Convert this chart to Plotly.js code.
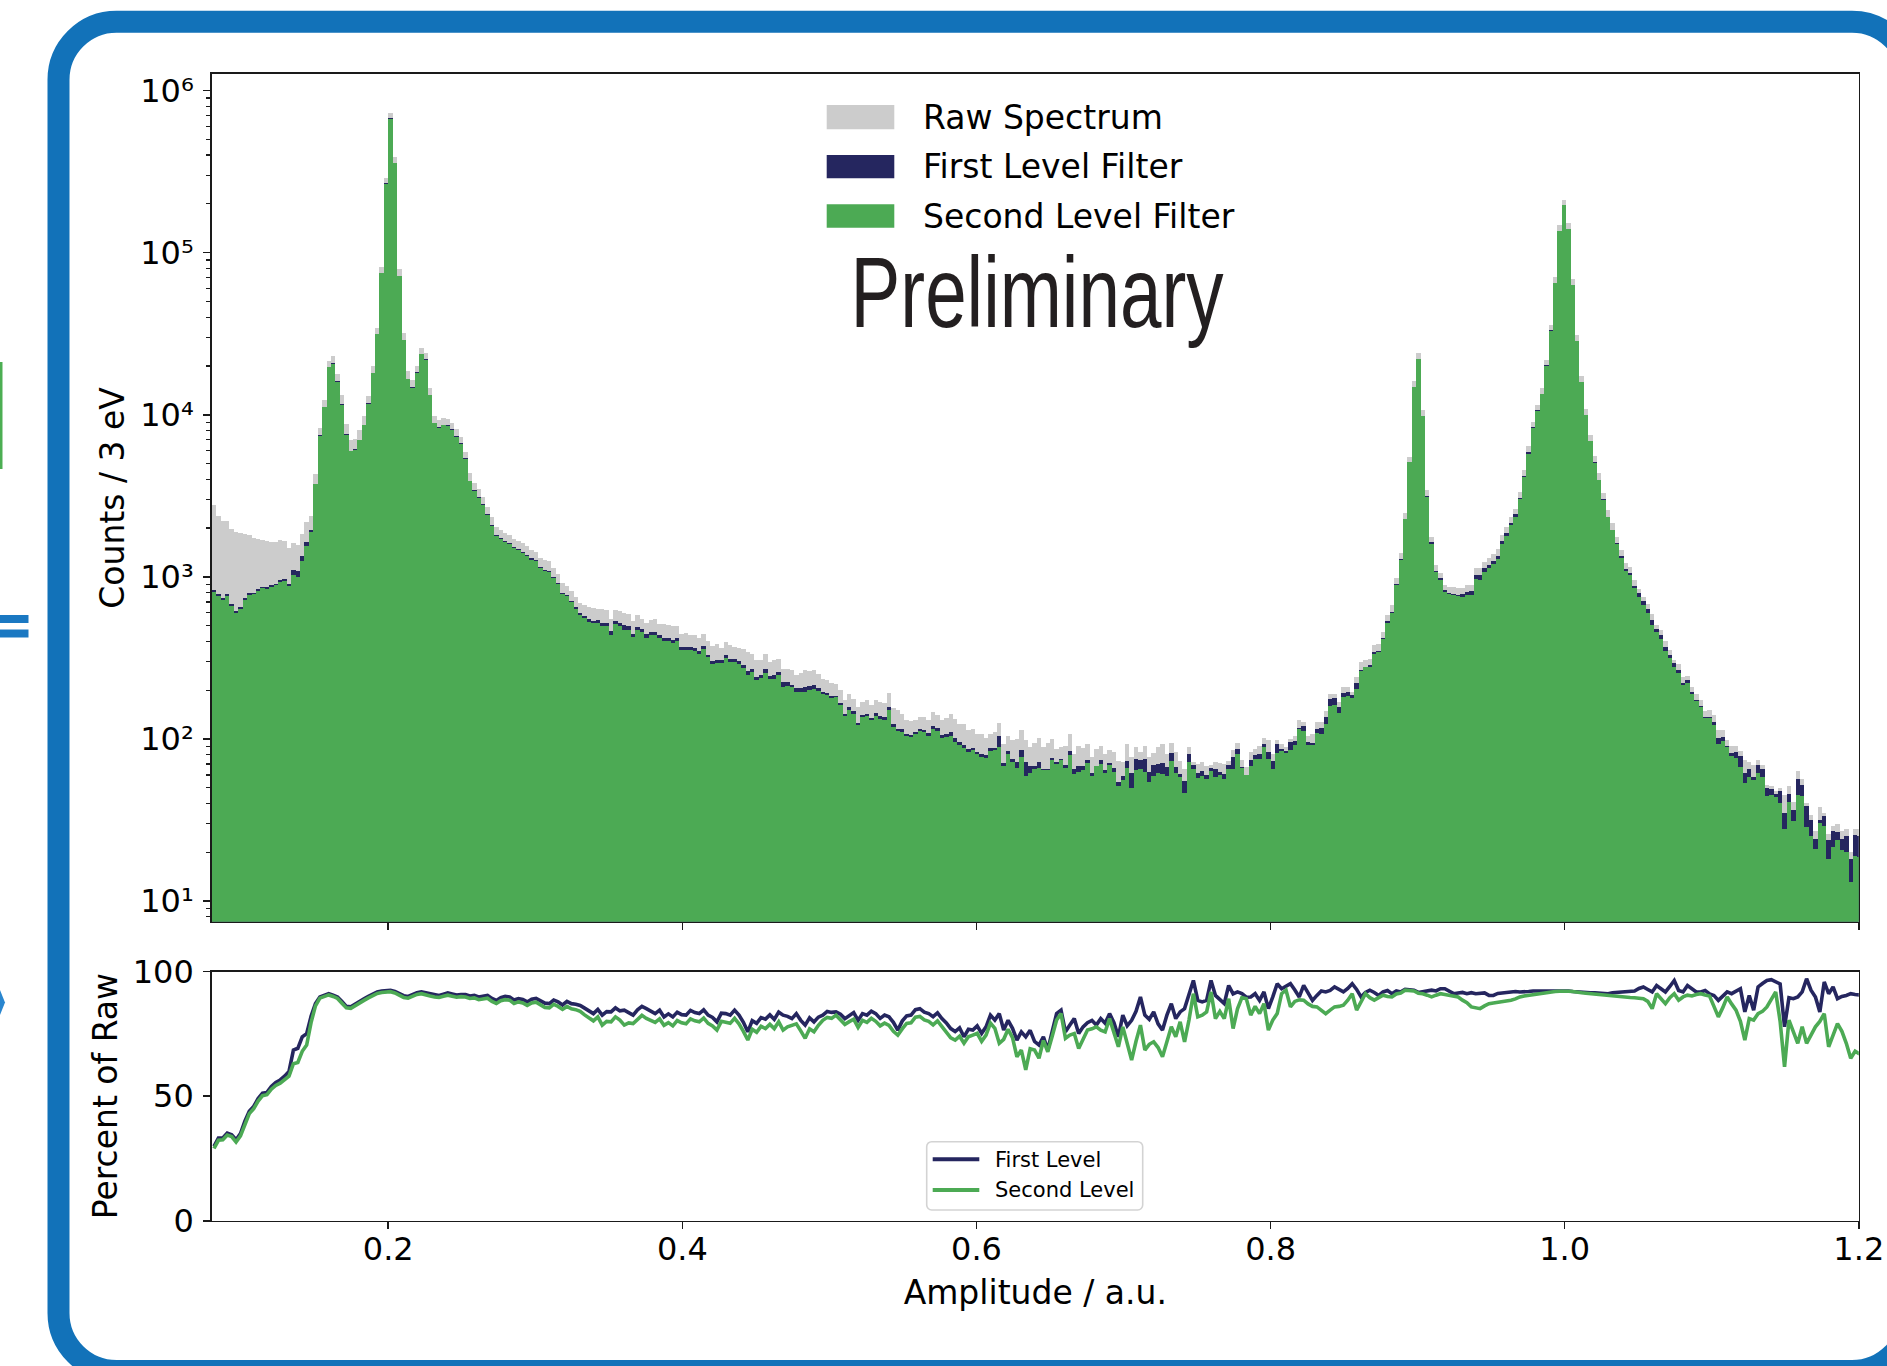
<!DOCTYPE html>
<html>
<head>
<meta charset="utf-8">
<script src="https://cdn.plot.ly/plotly-3.0.1.min.js"></script>
<style>
html, body { margin: 0; padding: 0; background: #ffffff; }
#chart { width: 1887px; height: 1366px; }
</style>
</head>
<body>
<div id="chart"></div>
<script>
// ---------------- data ----------------
const binStart = 0.08;
const binWidth = 0.003;

// Raw spectrum counts per 3 eV bin (bin k covers binStart + k*binWidth ... + binWidth)
const rawCounts = [
  2775, 2370, 2220, 2220, 1963, 1897, 1870, 1850, 1800, 1741,
  1710, 1690, 1670, 1650, 1630, 1690, 1670, 1504, 1620, 1570,
  1830, 2190, 2370, 4310, 8330, 12390, 21600, 22900, 17950, 13180,
  8790, 7000, 7060, 8000, 9770, 13090, 19950, 34360, 81700, 290000,
  728000, 389000, 79000, 32100, 18540, 16300, 19950, 25900, 24000, 14630,
  9860, 9310, 9550, 9400, 8920, 8130, 7340, 5930, 4350, 3810,
  3470, 3125, 2685, 2350, 2037, 1945, 1854, 1800, 1718, 1670,
  1608, 1550, 1463, 1420, 1300, 1270, 1250, 1127, 1048, 920,
  880, 818, 753, 692, 675, 652, 645, 637, 630, 622,
  552, 622, 617, 598, 593, 535, 579, 552, 520, 540,
  548, 515, 515, 508, 500, 499, 446, 450, 435, 435,
  421, 442, 402, 373, 387, 366, 396, 378, 369, 365,
  361, 344, 336, 305, 305, 333, 298, 305, 311, 272,
  272, 265, 247, 255, 265, 262, 268, 253, 236, 230,
  221, 219, 201, 175, 190, 177, 157, 169, 173, 161,
  173, 170, 166, 192, 156, 151, 143, 131, 129, 131,
  136, 136, 131, 146, 140, 130, 135, 143, 133, 124,
  124, 113, 115, 107, 107, 102, 107, 110, 125, 93,
  105, 98, 100, 113, 98, 89, 95, 102, 89, 95,
  100, 87, 89, 91, 107, 81, 91, 88, 93, 77,
  87, 91, 81, 85, 83, 73, 72, 93, 77, 89,
  83, 91, 77, 82, 89, 93, 81, 94, 83, 73,
  65, 89, 72, 70, 72, 68, 69, 72, 71, 70,
  73, 85, 95, 74, 67, 83, 87, 91, 102, 98,
  81, 98, 93, 89, 100, 105, 130, 127, 105, 107,
  127, 127, 148, 190, 190, 169, 209, 209, 195, 240,
  298, 305, 310, 378, 385, 457, 579, 668, 977, 1396,
  2466, 5520, 16070, 24100, 10740, 3430, 1766, 1181, 1050, 889,
  870, 860, 851, 851, 889, 895, 1127, 1127, 1240, 1300,
  1380, 1480, 1810, 2040, 2350, 2640, 3360, 4570, 6370, 9080,
  11530, 14630, 21870, 36000, 70600, 147500, 212000, 152700, 68700, 30900,
  17400, 10840, 7540, 5570, 4360, 3310, 2580, 2140, 1766, 1462,
  1211, 1150, 954, 847, 752, 684, 594, 504, 468, 402,
  353, 305, 290, 241, 246, 209, 190, 173, 148, 150,
  141, 114, 114, 99, 90, 90, 84, 74, 72, 69,
  74, 69, 52, 51, 48, 50, 45, 51, 41, 63,
  57, 40, 34, 27, 38, 35, 26, 29, 30, 27,
  28, 20, 28, 28
];

// Percent of raw kept by the first level filter, per bin
const firstPct = [
  29.9, 33.2, 33.2, 35.2, 34.5, 32.5, 35.0, 40.0, 43.9, 45.9,
  49.0, 51.2, 51.5, 53.9, 55.5, 56.5, 58.0, 59.9, 68.5, 69.2,
  73.8, 75.1, 82.0, 87.1, 89.8, 90.5, 91.1, 90.5, 89.8, 88.0,
  86.0, 85.8, 87.0, 87.8, 89.0, 90.0, 91.0, 91.8, 92.2, 92.5,
  92.5, 92.0, 91.0, 90.3, 90.0, 90.8, 91.5, 91.8, 91.5, 91.0,
  90.6, 90.4, 90.9, 91.4, 91.0, 90.6, 90.8, 90.8, 90.2, 90.4,
  89.8, 90.2, 90.4, 89.2, 88.4, 89.5, 90.0, 89.8, 88.6, 89.1,
  88.8, 87.8, 88.9, 89.2, 88.4, 87.3, 87.1, 88.5, 87.8, 86.6,
  88.0, 87.1, 86.9, 86.4, 85.3, 84.0, 83.1, 84.8, 82.5, 83.9,
  83.8, 85.4, 84.2, 84.5, 83.6, 82.5, 84.6, 86.0, 85.1, 84.2,
  83.1, 84.5, 81.8, 83.0, 81.8, 83.7, 82.7, 82.5, 84.4, 83.5,
  83.1, 84.6, 82.5, 81.6, 79.8, 83.3, 83.1, 82.5, 84.5, 82.5,
  79.6, 75.8, 80.3, 79.2, 81.5, 80.9, 82.6, 80.8, 83.7, 82.5,
  82.0, 81.1, 83.1, 80.4, 78.5, 81.4, 79.8, 81.7, 82.5, 84.0,
  83.6, 83.8, 82.9, 81.1, 82.4, 83.5, 80.4, 83.1, 82.5, 84.1,
  83.1, 81.2, 82.5, 81.8, 79.6, 76.5, 80.1, 82.2, 82.5, 84.7,
  85.1, 83.7, 83.1, 81.9, 83.4, 81.1, 79.4, 77.1, 75.9, 77.4,
  73.8, 76.8, 76.5, 78.2, 75.2, 77.8, 82.5, 80.5, 83.1, 76.5,
  80.4, 77.2, 72.5, 75.8, 73.8, 76.4, 72.0, 70.5, 73.8, 68.5,
  76.0, 83.1, 84.5, 75.8, 78.5, 81.1, 75.1, 77.8, 79.5, 80.4,
  78.5, 81.1, 79.2, 83.1, 79.5, 73.8, 82.5, 78.2, 80.4, 84.0,
  89.8, 82.5, 80.8, 83.8, 79.0, 76.5, 82.5, 87.1, 81.1, 83.8,
  85.1, 90.2, 96.4, 88.4, 87.8, 88.4, 96.4, 90.4, 88.5, 87.1,
  94.4, 91.0, 91.8, 91.1, 89.7, 89.8, 91.1, 88.4, 91.8, 85.1,
  89.8, 95.1, 93.1, 94.2, 95.1, 92.6, 89.8, 94.4, 91.2, 88.4,
  90.4, 92.2, 91.8, 92.4, 93.8, 92.6, 91.8, 93.2, 95.1, 92.8,
  89.8, 91.6, 92.5, 91.6, 90.4, 91.8, 92.4, 91.1, 92.2, 91.8,
  92.8, 92.7, 92.5, 91.6, 91.8, 92.1, 92.5, 92.2, 93.1, 93.1,
  91.9, 91.1, 91.4, 91.6, 91.1, 91.5, 91.1, 91.1, 91.4, 90.4,
  90.4, 91.2, 91.4, 91.8, 91.9, 92.0, 91.8, 91.8, 92.0, 92.2,
  92.2, 92.3, 92.2, 92.3, 92.2, 92.4, 92.5, 92.2, 92.0, 91.8,
  91.8, 91.6, 91.5, 91.5, 91.4, 91.2, 91.1, 91.5, 91.6, 91.8,
  92.0, 92.1, 92.2, 93.2, 93.8, 92.8, 91.8, 94.4, 93.0, 91.8,
  94.0, 96.4, 92.4, 91.8, 94.4, 93.0, 91.8, 91.8, 92.4, 91.0,
  90.4, 88.4, 90.0, 91.8, 91.1, 92.0, 93.1, 83.8, 90.4, 84.5,
  93.8, 95.2, 96.4, 96.7, 95.8, 95.0, 77.8, 89.5, 89.1, 89.8,
  91.8, 97.1, 92.5, 89.8, 83.8, 95.8, 91.1, 93.8, 89.1, 90.0,
  90.4, 91.1, 90.8, 90.6
];

// Percent of raw kept by the second level filter, per bin
const secondPct = [
  29.0, 32.3, 32.5, 34.4, 33.8, 31.6, 34.1, 39.0, 43.0, 45.0,
  48.0, 50.2, 50.6, 52.8, 54.3, 55.2, 56.5, 58.0, 63.0, 63.5,
  68.0, 70.5, 79.5, 86.2, 89.3, 90.0, 90.6, 90.0, 89.2, 87.3,
  85.4, 85.2, 86.4, 87.2, 88.4, 89.4, 90.4, 91.2, 91.6, 91.9,
  91.9, 91.4, 90.4, 89.6, 89.3, 90.1, 90.8, 91.1, 90.8, 90.2,
  89.8, 89.6, 90.1, 90.5, 90.1, 89.7, 89.9, 89.8, 89.2, 89.4,
  88.7, 89.1, 89.3, 88.0, 87.2, 88.3, 88.7, 88.5, 87.2, 87.8,
  87.4, 86.4, 87.4, 87.7, 86.8, 85.6, 85.4, 86.8, 86.0, 84.8,
  86.0, 85.0, 84.7, 84.0, 82.6, 81.2, 80.2, 81.8, 78.5, 80.0,
  79.8, 81.8, 80.5, 78.5, 79.4, 79.1, 81.0, 82.4, 81.2, 80.5,
  79.6, 81.0, 78.4, 79.5, 78.2, 80.3, 79.4, 79.0, 81.0, 80.2,
  79.8, 81.3, 79.2, 78.2, 76.5, 80.0, 79.7, 79.2, 81.2, 79.0,
  76.0, 72.5, 76.8, 75.6, 78.0, 77.1, 78.8, 77.1, 79.8, 76.5,
  77.8, 78.5, 79.0, 76.2, 73.2, 77.0, 75.8, 78.4, 80.4, 81.6,
  81.2, 82.5, 80.6, 78.8, 79.9, 80.9, 77.6, 80.4, 79.6, 81.2,
  80.0, 78.2, 79.3, 78.4, 76.0, 74.5, 77.0, 79.2, 79.4, 81.7,
  82.0, 80.6, 80.0, 78.6, 80.2, 77.8, 75.8, 73.4, 72.5, 74.0,
  71.2, 73.8, 74.5, 75.2, 72.0, 74.5, 79.3, 77.2, 71.2, 72.8,
  76.8, 73.5, 65.8, 68.5, 60.5, 69.0, 68.5, 65.2, 72.3, 67.8,
  74.0, 80.5, 83.1, 73.2, 74.5, 75.1, 69.1, 72.8, 76.5, 77.0,
  77.8, 76.5, 75.8, 81.1, 75.0, 69.8, 77.8, 71.0, 64.5, 72.0,
  78.5, 68.5, 70.8, 71.8, 69.5, 65.8, 72.5, 77.8, 73.8, 79.8,
  71.8, 80.5, 91.1, 81.8, 82.5, 83.8, 91.8, 81.1, 84.0, 81.1,
  89.1, 77.1, 85.0, 89.5, 89.1, 82.5, 86.0, 83.1, 87.1, 76.5,
  80.5, 83.1, 91.1, 92.5, 85.8, 88.0, 88.6, 88.5, 87.0, 86.0,
  85.8, 84.5, 83.1, 84.5, 85.8, 86.0, 86.5, 88.5, 91.1, 84.5,
  88.0, 91.1, 89.5, 88.5, 89.5, 90.5, 90.0, 89.8, 91.0, 91.4,
  92.5, 92.3, 92.2, 91.3, 91.1, 90.5, 89.8, 90.5, 91.1, 90.8,
  90.5, 90.0, 89.8, 88.5, 87.5, 85.8, 85.5, 85.1, 86.2, 87.1,
  87.4, 87.6, 87.8, 88.1, 88.5, 89.0, 89.8, 90.2, 90.5, 90.8,
  91.1, 91.4, 91.6, 91.8, 92.0, 92.1, 92.2, 92.1, 92.0, 91.6,
  91.5, 91.3, 91.1, 90.9, 90.8, 90.6, 90.5, 90.4, 90.2, 90.0,
  89.8, 89.6, 89.5, 89.3, 89.1, 88.0, 85.1, 91.1, 89.0, 87.1,
  89.5, 91.1, 88.5, 89.8, 90.5, 90.2, 90.8, 91.1, 90.6, 90.2,
  86.0, 81.8, 85.5, 89.8, 87.0, 84.5, 80.0, 72.5, 81.1, 80.5,
  83.1, 84.0, 85.8, 88.5, 91.8, 80.0, 61.8, 80.5, 76.0, 71.2,
  77.8, 71.2, 74.5, 77.8, 80.0, 83.1, 69.8, 74.0, 79.1, 76.0,
  71.2, 65.2, 68.0, 66.9
];

const seriesNames = ['Raw Spectrum', 'First Level Filter', 'Second Level Filter'];
const ratioNames = ['First Level', 'Second Level'];
const countTickVals = [10, 100, 1000, 10000, 100000, 1000000];
const countTickText = ['10\u00B9', '10\u00B2', '10\u00B3', '10\u2074', '10\u2075', '10\u2076'];
const ampTickVals = [0.2, 0.4, 0.6, 0.8, 1.0, 1.2];
const ampTickText = ['0.2', '0.4', '0.6', '0.8', '1.0', '1.2'];
const pctTickVals = [0, 50, 100];
const watermark = 'Preliminary';

// ---------------- derived ----------------
const centers = rawCounts.map((_, i) => binStart + binWidth * (i + 0.5));
const firstCounts = rawCounts.map((c, i) => c * firstPct[i] / 100);
const secondCounts = rawCounts.map((c, i) => c * secondPct[i] / 100);

const minorVals = [];
for (let d = 0; d <= 6; d++) for (let m = 2; m <= 9; m++) minorVals.push(m * Math.pow(10, d));

const C_RAW = '#cccccc';
const C_FIRST = '#25265f';
const C_SECOND = '#4caa54';
const C_BLUE = '#1272b9';
const FONT = 'DejaVu Sans, Verdana, sans-serif';

const W = 1887, H = 1366;
const px = x => x / W;
const py = y => 1 - y / H;
const P = (x, y) => px(x).toFixed(6) + ',' + py(y).toFixed(6);
function roundRectPath(x0, y0, x1, y1, r) {
  const k = 0.5523 * r;
  return 'M' + P(x0 + r, y0) + ' L' + P(x1 - r, y0) +
    ' C' + P(x1 - r + k, y0) + ' ' + P(x1, y0 + r - k) + ' ' + P(x1, y0 + r) +
    ' L' + P(x1, y1 - r) +
    ' C' + P(x1, y1 - r + k) + ' ' + P(x1 - r + k, y1) + ' ' + P(x1 - r, y1) +
    ' L' + P(x0 + r, y1) +
    ' C' + P(x0 + r - k, y1) + ' ' + P(x0, y1 - r + k) + ' ' + P(x0, y1 - r) +
    ' L' + P(x0, y0 + r) +
    ' C' + P(x0, y0 + r - k) + ' ' + P(x0 + r - k, y0) + ' ' + P(x0 + r, y0) + ' Z';
}

const barCommon = { type: 'bar', x: centers, width: binWidth, xaxis: 'x', yaxis: 'y',
  hoverinfo: 'skip', showlegend: false };

const traces = [
  Object.assign({}, barCommon, { name: seriesNames[0], y: rawCounts, marker: { color: C_RAW, line: { width: 0 } } }),
  Object.assign({}, barCommon, { name: seriesNames[1], y: firstCounts, marker: { color: C_FIRST, line: { width: 0 } } }),
  Object.assign({}, barCommon, { name: seriesNames[2], y: secondCounts, marker: { color: C_SECOND, line: { width: 0 } } }),
  { type: 'scatter', mode: 'lines', name: ratioNames[0], x: centers, y: firstPct, xaxis: 'x2', yaxis: 'y2',
    line: { color: C_FIRST, width: 3.6 }, hoverinfo: 'skip', showlegend: false },
  { type: 'scatter', mode: 'lines', name: ratioNames[1], x: centers, y: secondPct, xaxis: 'x2', yaxis: 'y2',
    line: { color: C_SECOND, width: 3.6 }, hoverinfo: 'skip', showlegend: false }
];

const axisCommon = {
  showline: true, linecolor: '#1a1a1a', linewidth: 1.6, mirror: true,
  ticks: 'outside', ticklen: 7, tickwidth: 1.6, tickcolor: '#1a1a1a',
  showgrid: false, zeroline: false,
  tickfont: { family: FONT, size: 32, color: '#000' }
};
const xDomain = [211.8 / W, 1858.8 / W];

const layout = {
  width: W, height: H,
  margin: { l: 0, r: 0, t: 0, b: 0, pad: 0 },
  paper_bgcolor: '#ffffff', plot_bgcolor: '#ffffff',
  barmode: 'overlay', bargap: 0,
  showlegend: false,
  xaxis: Object.assign({}, axisCommon, {
    domain: xDomain, anchor: 'y', range: [0.08, 1.2],
    tickvals: ampTickVals, showticklabels: false
  }),
  yaxis: Object.assign({}, axisCommon, {
    domain: [1 - 921.8 / H, 1 - 74 / H], anchor: 'x',
    type: 'log', range: [0.872, 6.102],
    tickvals: countTickVals, ticktext: countTickText, ticklabelstandoff: 3,
    minor: { tickvals: minorVals, ticks: 'outside', ticklen: 4, tickwidth: 1.2, tickcolor: '#1a1a1a', showgrid: false },
    title: { text: 'Counts / 3 eV', font: { family: FONT, size: 33, color: '#000' }, standoff: 5 }
  }),
  xaxis2: Object.assign({}, axisCommon, {
    domain: xDomain, anchor: 'y2', range: [0.08, 1.2],
    tickvals: ampTickVals, ticktext: ampTickText, ticklabelstandoff: -8,
    title: { text: 'Amplitude / a.u.', font: { family: FONT, size: 33, color: '#000' }, standoff: 14 }
  }),
  yaxis2: Object.assign({}, axisCommon, {
    domain: [1 - 1220.8 / H, 1 - 971.5 / H], anchor: 'x2',
    range: [0, 100], tickvals: pctTickVals, ticklabelstandoff: 3,
    title: { text: 'Percent of Raw', font: { family: FONT, size: 33, color: '#000' }, standoff: 5 }
  }),
  shapes: [
    // slide frame around the figure
    { type: 'path', xref: 'paper', yref: 'paper', path: roundRectPath(58.5, 21.7, 1910, 1371, 58),
      line: { color: C_BLUE, width: 22 }, fillcolor: 'rgba(0,0,0,0)', layer: 'above' },
    // cut-off neighbours at the left edge of the slide
    { type: 'rect', xref: 'paper', yref: 'paper', x0: px(-4), x1: px(2.5), y0: py(362), y1: py(469),
      line: { width: 0 }, fillcolor: '#4cae53', layer: 'above' },
    { type: 'rect', xref: 'paper', yref: 'paper', x0: px(0), x1: px(28.5), y0: py(615), y1: py(623),
      line: { width: 0 }, fillcolor: '#1a78c2', layer: 'above' },
    { type: 'rect', xref: 'paper', yref: 'paper', x0: px(0), x1: px(28.5), y0: py(629.5), y1: py(637.5),
      line: { width: 0 }, fillcolor: '#1a78c2', layer: 'above' },
    { type: 'path', xref: 'paper', yref: 'paper', path: 'M' + P(0, 990) + ' L' + P(5, 1002.5) + ' L' + P(0, 1015) + ' Z',
      line: { width: 0 }, fillcolor: '#2a86cf', layer: 'above' },
    // top legend patches
    { type: 'rect', xref: 'paper', yref: 'paper', x0: px(826.7), x1: px(894.3), y0: py(105), y1: py(129.3),
      line: { width: 0 }, fillcolor: C_RAW, layer: 'above' },
    { type: 'rect', xref: 'paper', yref: 'paper', x0: px(826.7), x1: px(894.3), y0: py(155), y1: py(178.3),
      line: { width: 0 }, fillcolor: C_FIRST, layer: 'above' },
    { type: 'rect', xref: 'paper', yref: 'paper', x0: px(826.7), x1: px(894.3), y0: py(204.3), y1: py(227.7),
      line: { width: 0 }, fillcolor: C_SECOND, layer: 'above' },
    // bottom legend box and lines
    { type: 'path', xref: 'paper', yref: 'paper', path: roundRectPath(926.7, 1141.7, 1142.7, 1210, 5),
      line: { color: '#d3d3d3', width: 1.6 }, fillcolor: 'rgba(255,255,255,0.85)', layer: 'above' },
    { type: 'line', xref: 'paper', yref: 'paper', x0: px(932.7), x1: px(979.3), y0: py(1159.3), y1: py(1159.3),
      line: { color: C_FIRST, width: 4 }, layer: 'above' },
    { type: 'line', xref: 'paper', yref: 'paper', x0: px(932.7), x1: px(979.3), y0: py(1190), y1: py(1190),
      line: { color: C_SECOND, width: 4 }, layer: 'above' }
  ],
  annotations: [
    { xref: 'paper', yref: 'paper', x: px(921), y: py(117.5), xanchor: 'left', yanchor: 'middle', showarrow: false,
      text: seriesNames[0], font: { family: FONT, size: 33, color: '#000' } },
    { xref: 'paper', yref: 'paper', x: px(921), y: py(166.7), xanchor: 'left', yanchor: 'middle', showarrow: false,
      text: seriesNames[1], font: { family: FONT, size: 33, color: '#000' } },
    { xref: 'paper', yref: 'paper', x: px(921), y: py(216), xanchor: 'left', yanchor: 'middle', showarrow: false,
      text: seriesNames[2], font: { family: FONT, size: 33, color: '#000' } },
    { xref: 'paper', yref: 'paper', x: px(1036.5), y: py(292), xanchor: 'center', yanchor: 'middle', showarrow: false,
      text: watermark, font: { family: 'Liberation Sans, Arial, sans-serif', size: 80, color: '#231f20' } },
    { xref: 'paper', yref: 'paper', x: px(992.5), y: py(1159.5), xanchor: 'left', yanchor: 'middle', showarrow: false,
      text: ratioNames[0], font: { family: FONT, size: 21, color: '#000' } },
    { xref: 'paper', yref: 'paper', x: px(992.5), y: py(1190), xanchor: 'left', yanchor: 'middle', showarrow: false,
      text: ratioNames[1], font: { family: FONT, size: 21, color: '#000' } }
  ]
};

Plotly.newPlot('chart', traces, layout, { staticPlot: true, displayModeBar: false }).then(() => {
  // the watermark in the original uses a tall condensed face: reshape the text to its measured extent
  const targetWidth = 373, targetCap = 72, capRatio = 0.716, fontSize = 80;
  document.querySelectorAll('text.annotation-text').forEach(t => {
    if (t.textContent === watermark) {
      const bb = t.getBBox();
      if (bb.width > 0) {
        const sx = targetWidth / bb.width;
        const sy = targetCap / (capRatio * fontSize);
        const cx = bb.x + bb.width / 2, cy = bb.y + bb.height / 2;
        const prev = t.getAttribute('transform') || '';
        t.setAttribute('transform', (prev + ' translate(' + cx + ',' + cy + ') scale(' + sx + ',' + sy + ') translate(' + (-cx) + ',' + (-cy) + ')').trim());
      }
    }
  });
});
</script>
</body>
</html>
